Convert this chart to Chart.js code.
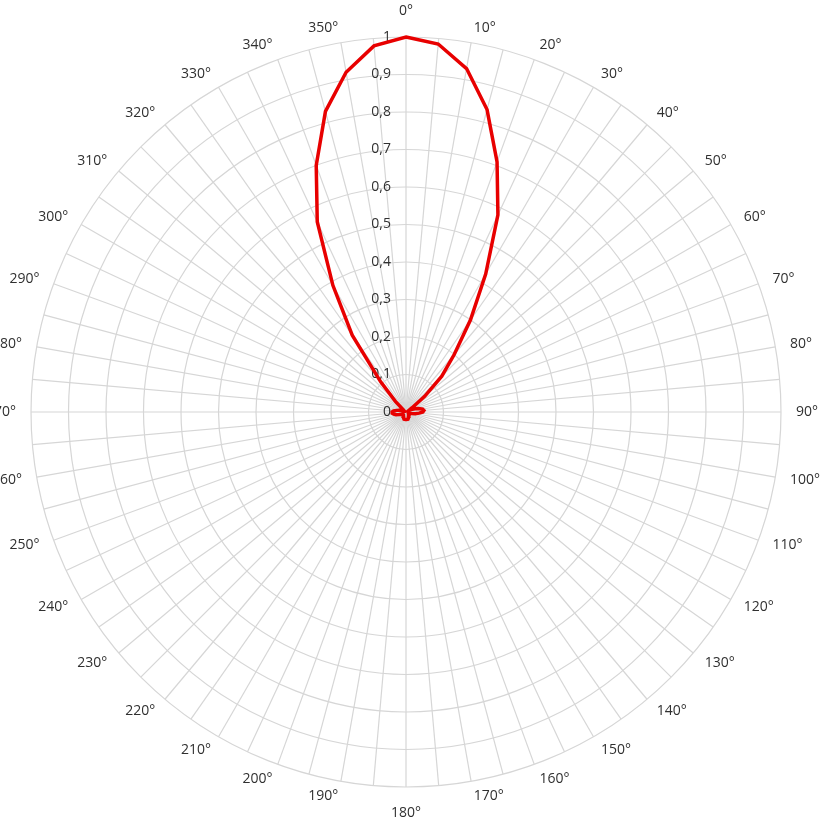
<!DOCTYPE html>
<html>
<head>
<meta charset="utf-8">
<script src="https://cdn.jsdelivr.net/npm/chart.js@4.4.0/dist/chart.umd.min.js"></script>
<style>
    html, body { margin: 0; padding: 0; background: #fff; overflow: hidden; }
    /* the canvas is a bit larger than the window so the outer labels get clipped like in the original */
    canvas { display: block; margin-left: -17px; margin-top: -8px; }
</style>
</head>
<body>
<canvas id="polarDiagram" width="840" height="840"></canvas>
<script>
// one category per 5 degrees, only every 10 degrees gets a label
const angleLabels = [
    "0°", "", "10°", "", "20°", "", "30°", "", "40°", "", "50°", "",
    "60°", "", "70°", "", "80°", "", "90°", "", "100°", "", "110°", "",
    "120°", "", "130°", "", "140°", "", "150°", "", "160°", "", "170°", "",
    "180°", "", "190°", "", "200°", "", "210°", "", "220°", "", "230°", "",
    "240°", "", "250°", "", "260°", "", "270°", "", "280°", "", "290°", "",
    "300°", "", "310°", "", "320°", "", "330°", "", "340°", "", "350°", ""
];

// relative intensity at 0°, 5°, 10° ... 355°
const intensity = [
    1.00, 0.985, 0.93, 0.835, 0.71, 0.58, 0.425, 0.30, 0.20, 0.135, 0.065, 0.02,
    0.01, 0.015, 0.025, 0.035, 0.045, 0.048, 0.045, 0.035, 0.025, 0.015, 0.01, 0.008,
    0.008, 0.008, 0.01, 0.01, 0.012, 0.012, 0.015, 0.015, 0.018, 0.02, 0.02, 0.02,
    0.02, 0.02, 0.02, 0.02, 0.018, 0.015, 0.015, 0.012, 0.012, 0.01, 0.01, 0.01,
    0.012, 0.015, 0.02, 0.028, 0.033, 0.037, 0.037, 0.033, 0.025, 0.018, 0.01, 0.006,
    0.006, 0.01, 0.01, 0.04, 0.105, 0.25, 0.39, 0.56, 0.70, 0.83, 0.92, 0.98
];

const tickValues = [0, 0.1, 0.2, 0.3, 0.4, 0.5, 0.6, 0.7, 0.8, 0.9, 1];
const tickLabels = ["0", "0,1", "0,2", "0,3", "0,4", "0,5", "0,6", "0,7", "0,8", "0,9", "1"];

const textColor = "#303030";
const gridColor = "#d6d6d6";
const fontFamily = "'Open Sans', 'Noto Sans', sans-serif";

// value labels sit left of the 0° spoke, like in the Excel chart
const tickLabelPlugin = {
    id: "tickLabelsLeft",
    beforeDatasetsDraw(chart) {
        const scale = chart.scales.r;
        const ctx = chart.ctx;
        ctx.save();
        ctx.font = "14px " + fontFamily;
        ctx.fillStyle = textColor;
        ctx.textAlign = "right";
        ctx.textBaseline = "middle";
        tickValues.forEach((v, i) => {
            const d = scale.getDistanceFromCenterForValue(v);
            ctx.fillText(tickLabels[i], scale.xCenter - 15, scale.yCenter - d);
        });
        ctx.restore();
    }
};

const canvas = document.getElementById("polarDiagram");

new Chart(canvas, {
    type: "radar",
    data: {
        labels: angleLabels,
        datasets: [{
            label: "Intensity",
            data: intensity,
            borderColor: "#e80000",
            backgroundColor: "transparent",
            borderWidth: 3.5,
            fill: false,
            pointRadius: 0,
            tension: 0,
        }],
    },
    options: {
        responsive: false,
        animation: false,
        plugins: {
            legend: { display: false },
            tooltip: { enabled: false },
        },
        scales: {
            r: {
                min: 0,
                max: 1,
                startAngle: 0,
                ticks: {
                    stepSize: 0.1,
                    display: false,
                },
                grid: {
                    circular: true,
                    color: gridColor,
                    lineWidth: 1.2,
                },
                angleLines: {
                    color: gridColor,
                    lineWidth: 1.2,
                },
                pointLabels: {
                    color: textColor,
                    // top and bottom labels sit a little further out
                    padding: (c) => (c.index === 0 || c.index === 36) ? 26 : 15,
                    font: {
                        family: fontFamily,
                        size: 14,
                        // tiny line height -> labels centred on their anchor point, as Excel does
                        lineHeight: 0.01,
                    },
                },
            },
        },
    },
    plugins: [tickLabelPlugin],
});
</script>
</body>
</html>
